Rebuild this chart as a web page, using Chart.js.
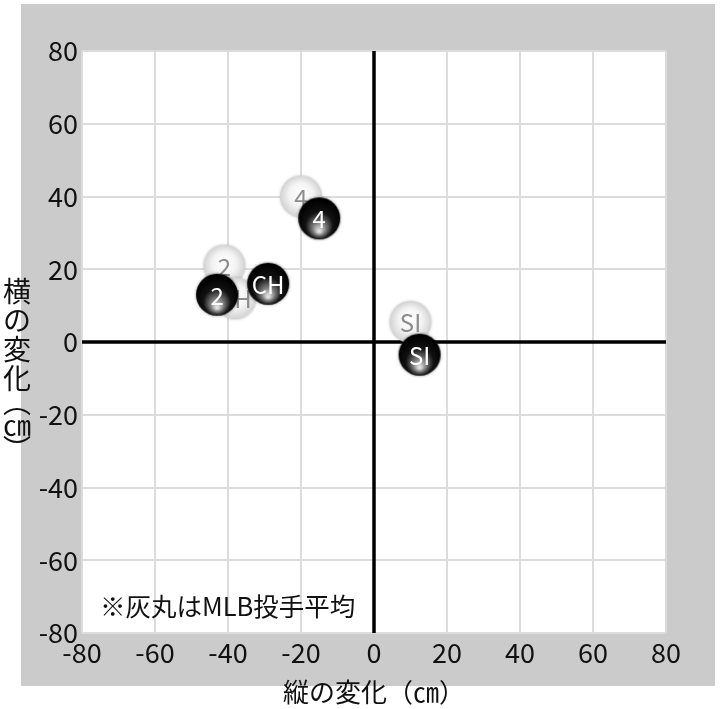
<!DOCTYPE html>
<html>
<head>
<meta charset="utf-8">
<script src="https://cdn.jsdelivr.net/npm/chart.js@4.4.1/dist/chart.umd.min.js"></script>
<style>
  html, body { margin: 0; padding: 0; background: #fff; }
</style>
</head>
<body>
<canvas id="breakChart" width="720" height="709"></canvas>
<script>
// pitch types and break values (cm)
const pitchTypes = ["4", "2", "CH", "SI"];
const pitcherX = [-15, -43, -29, 12.5];
const pitcherY = [34, 13, 16, -3.5];
const mlbX = [-20, -41, -38, 10];
const mlbY = [40, 21, 12, 5.5];

const xTitle = "縦の変化（㎝）";
const yTitleChars = ["横", "の", "変", "化", "︵", "㎝", "︶"];
const noteText = "※灰丸はMLB投手平均";

const FONT = "'Noto Sans CJK JP', 'Noto Sans', sans-serif";

// glossy ball sprites used as point styles
function makeBall(dark) {
    const r = 21;
    const size = r * 2 + 6;
    const c = document.createElement("canvas");
    c.width = size;
    c.height = size;
    const g = c.getContext("2d");
    const cx = size / 2, cy = size / 2;
    let grad;
    if (dark) {
        grad = g.createRadialGradient(cx, cy + r * 0.62, 1, cx, cy + r * 0.15, r * 1.05);
        grad.addColorStop(0, "#e4e4e4");
        grad.addColorStop(0.28, "#777");
        grad.addColorStop(0.6, "#121212");
        grad.addColorStop(1, "#000");
        g.shadowColor = "rgba(0,0,0,0.45)";
    } else {
        grad = g.createRadialGradient(cx, cy - r * 0.2, 1, cx, cy, r);
        grad.addColorStop(0, "#ffffff");
        grad.addColorStop(0.55, "#f3f3f3");
        grad.addColorStop(1, "#d2d2d2");
        g.shadowColor = "rgba(0,0,0,0.2)";
    }
    g.shadowBlur = 3;
    g.fillStyle = grad;
    g.beginPath();
    g.arc(cx, cy, r, 0, Math.PI * 2);
    g.fill();
    return c;
}

function toPoints(xs, ys) {
    return xs.map((x, i) => ({ x: x, y: ys[i] }));
}

// gray frame + white plot area
const framePlugin = {
    id: "frame",
    beforeDraw(chart) {
        const { ctx, chartArea: a } = chart;
        ctx.save();
        ctx.fillStyle = "#cbcbcb";
        ctx.fillRect(a.left - 61, a.top - 47, (a.right + 49) - (a.left - 61), (a.bottom + 53) - (a.top - 47));
        ctx.fillStyle = "#fff";
        ctx.fillRect(a.left, a.top, a.right - a.left, a.bottom - a.top);
        ctx.restore();
    }
};

// black zero lines and the note text
const zeroLinePlugin = {
    id: "zeroLines",
    beforeDatasetsDraw(chart) {
        const { ctx, chartArea: a, scales } = chart;
        const x0 = scales.x.getPixelForValue(0);
        const y0 = scales.y.getPixelForValue(0);
        ctx.save();
        ctx.strokeStyle = "#000";
        ctx.lineWidth = 3.5;
        ctx.beginPath();
        ctx.moveTo(x0, a.top);
        ctx.lineTo(x0, a.bottom);
        ctx.moveTo(a.left, y0);
        ctx.lineTo(a.right, y0);
        ctx.stroke();

        ctx.fillStyle = "#111";
        ctx.font = "25.5px " + FONT;
        ctx.textAlign = "left";
        ctx.textBaseline = "middle";
        ctx.fillText(noteText, a.left + 18, a.bottom - 27);
        ctx.restore();
    }
};

// pitch labels on the balls
const labelPlugin = {
    id: "ballLabels",
    afterDatasetDraw(chart, args) {
        const ds = chart.data.datasets[args.index];
        const ctx = chart.ctx;
        ctx.save();
        ctx.font = "24px " + FONT;
        ctx.fillStyle = ds.labelColor;
        ctx.textAlign = "center";
        ctx.textBaseline = "middle";
        args.meta.data.forEach((pt, i) => {
            ctx.fillText(pitchTypes[i], pt.x, pt.y + 1);
        });
        ctx.restore();
    }
};

// vertical y axis title
const yTitlePlugin = {
    id: "yTitle",
    afterDraw(chart) {
        const { ctx, chartArea: a } = chart;
        ctx.save();
        ctx.fillStyle = "#111";
        ctx.font = "28px " + FONT;
        ctx.textAlign = "center";
        ctx.textBaseline = "middle";
        const cx = a.left - 65;
        let y = a.top + 240;
        yTitleChars.forEach(ch => {
            const small = ch === "︵" || ch === "︶";
            if (small) y -= 5;
            ctx.fillText(ch, cx, y);
            y += small ? 23 : 29;
        });
        ctx.restore();
    }
};

const ctx = document.getElementById("breakChart").getContext("2d");
const breakChart = new Chart(ctx, {
    type: "scatter",
    data: {
        datasets: [
            {
                label: "投手",
                data: toPoints(pitcherX, pitcherY),
                pointStyle: makeBall(true),
                labelColor: "#fff",
                order: 0
            },
            {
                label: "MLB投手平均",
                data: toPoints(mlbX, mlbY),
                pointStyle: makeBall(false),
                labelColor: "#8c8c8c",
                order: 1
            }
        ]
    },
    options: {
        responsive: false,
        animation: false,
        events: [],
        layout: { padding: { top: 51, right: 54, left: 0, bottom: 0 } },
        plugins: {
            legend: { display: false },
            tooltip: { enabled: false }
        },
        scales: {
            x: {
                type: "linear",
                min: -80,
                max: 80,
                ticks: {
                    stepSize: 20,
                    maxRotation: 0,
                    autoSkip: false,
                    padding: 4,
                    color: "#111",
                    font: { family: FONT, size: 27 }
                },
                grid: { color: "#dcdcdc", lineWidth: 2, drawTicks: false },
                border: { display: false },
                title: {
                    display: true,
                    text: xTitle,
                    color: "#111",
                    font: { family: FONT, size: 26 },
                    padding: { top: 0, bottom: 1 }
                },
                afterFit(scale) { scale.height = 76; }
            },
            y: {
                type: "linear",
                min: -80,
                max: 80,
                ticks: {
                    stepSize: 20,
                    autoSkip: false,
                    padding: 4,
                    color: "#111",
                    font: { family: FONT, size: 27 }
                },
                grid: { color: "#dcdcdc", lineWidth: 2, drawTicks: false },
                border: { display: false },
                afterFit(scale) { scale.width = 82; }
            }
        }
    },
    plugins: [framePlugin, zeroLinePlugin, labelPlugin, yTitlePlugin]
});
</script>
</body>
</html>
